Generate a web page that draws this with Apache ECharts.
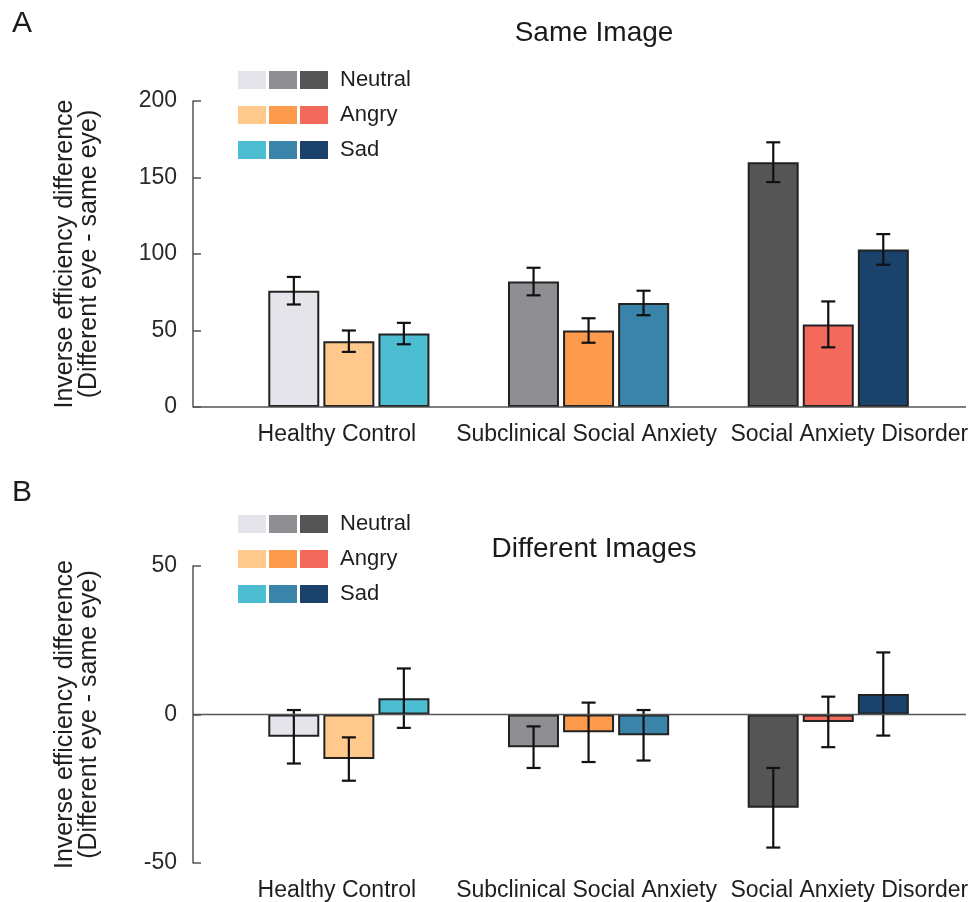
<!DOCTYPE html>
<html>
<head>
<meta charset="utf-8">
<title>Inverse efficiency difference</title>
<script src="https://cdn.jsdelivr.net/npm/echarts@6/dist/echarts.min.js"></script>
<style>
  html, body { margin: 0; padding: 0; background: #fff; }
  #main { width: 971px; height: 902px; }
</style>
</head>
<body>
<div id="main"></div>
<script>
// groups and emotions
var categories = ['Healthy Control', 'Subclinical Social Anxiety', 'Social Anxiety Disorder'];
var emotions = ['Neutral', 'Angry', 'Sad'];

// one shade per group (light -> dark)
var neutralShades = ['#e4e4ea', '#8e8e93', '#555555'];
var angryShades = ['#fec98a', '#fd9a4c', '#f3695b'];
var sadShades = ['#4dbdd1', '#3a83a9', '#1a426b'];

// A: same image (mean, error)
var sameNeutral = [76, 82, 160];
var sameNeutralErr = [9, 9, 13];
var sameAngry = [43, 50, 54];
var sameAngryErr = [7, 8, 15];
var sameSad = [48, 68, 103];
var sameSadErr = [7, 8, 10];

// B: different images (mean, error)
var diffNeutral = [-7.5, -11, -31.4];
var diffNeutralErr = [9, 7, 13.4];
var diffAngry = [-15, -6, -2.5];
var diffAngryErr = [7.3, 10, 8.5];
var diffSad = [5.5, -7, 6.9];
var diffSadErr = [10, 8.5, 14];

var yTicksA = { min: 0, max: 200, interval: 50 };
var yTicksB = { min: -50, max: 50, interval: 50 };

var FONT = 'Liberation Sans, Arial, sans-serif';
var shades = [neutralShades, angryShades, sadShades];
var panels = [
  { vals: [sameNeutral, sameAngry, sameSad], errs: [sameNeutralErr, sameAngryErr, sameSadErr] },
  { vals: [diffNeutral, diffAngry, diffSad], errs: [diffNeutralErr, diffAngryErr, diffSadErr] }
];

var BAR_W = 51, BAR_STEP = 55;
// labels in the figure sit a little off the group centres
var labelPads = [[0, 24, 0, 0], [0, 4, 0, 0], [0, 0, 0, 42]];

function errorRender(offset) {
  return function(params, api) {
    var idx = api.value(0);
    var x = api.coord([idx, 0])[0] + offset;
    var lo = api.coord([idx, api.value(1)])[1];
    var hi = api.coord([idx, api.value(2)])[1];
    var st = { stroke: '#111', lineWidth: 2.2 };
    return {
      type: 'group',
      children: [
        { type: 'line', shape: { x1: x, y1: lo, x2: x, y2: hi }, style: st },
        { type: 'line', shape: { x1: x - 7, y1: lo, x2: x + 7, y2: lo }, style: st },
        { type: 'line', shape: { x1: x - 7, y1: hi, x2: x + 7, y2: hi }, style: st }
      ]
    };
  };
}

var series = [];
panels.forEach(function(p, pi) {
  emotions.forEach(function(name, ei) {
    series.push({
      name: name,
      type: 'bar',
      xAxisIndex: pi,
      yAxisIndex: pi,
      barWidth: BAR_W,
      barGap: '8%',
      data: p.vals[ei].map(function(v, i) {
        return { value: v, itemStyle: { color: shades[ei][i] } };
      }),
      itemStyle: { borderColor: '#222', borderWidth: 2 },
      emphasis: { disabled: true },
      z: 2
    });
  });
  emotions.forEach(function(name, ei) {
    series.push({
      type: 'custom',
      xAxisIndex: pi,
      yAxisIndex: pi,
      renderItem: errorRender((ei - 1) * BAR_STEP),
      encode: { x: 0, y: [1, 2] },
      data: p.vals[ei].map(function(v, i) {
        return [i, v - p.errs[ei][i], v + p.errs[ei][i]];
      }),
      z: 5,
      silent: true
    });
  });
});

function xAxis(gi) {
  return {
    type: 'category',
    gridIndex: gi,
    data: categories.map(function(c, i) {
      return { value: c, textStyle: { padding: labelPads[i] } };
    }),
    axisLine: { show: false, onZero: false },
    axisTick: { show: false },
    axisLabel: { fontFamily: FONT, fontSize: 23, color: '#1e1e1e', margin: 16, interval: 0 }
  };
}

function yAxis(gi, t) {
  return {
    type: 'value',
    gridIndex: gi,
    min: t.min, max: t.max, interval: t.interval,
    offset: 36,
    name: 'Inverse efficiency difference\n(Different eye - same eye)',
    nameLocation: 'middle',
    nameGap: 92,
    nameTextStyle: { fontFamily: FONT, fontSize: 25, color: '#1e1e1e', lineHeight: 24 },
    axisLine: { show: true, lineStyle: { color: '#555', width: 1.5 } },
    axisTick: { show: true, inside: true, length: 8, lineStyle: { color: '#555', width: 1.5 } },
    axisLabel: { fontFamily: FONT, fontSize: 23, color: '#2a2a2a', margin: 16 },
    splitLine: { show: false }
  };
}

var chart = echarts.init(document.getElementById('main'));
chart.setOption({
  animation: false,
  backgroundColor: '#fff',
  grid: [
    { left: 229, right: 22, top: 101, bottom: 495 },
    { left: 229, right: 22, top: 566, bottom: 30 }
  ],
  xAxis: [xAxis(0), xAxis(1)],
  yAxis: [yAxis(0, yTicksA), yAxis(1, yTicksB)],
  series: series
});

// baselines at zero, legend swatches, titles
var graphics = [];
[0, 1].forEach(function(gi) {
  var y0 = chart.convertToPixel({ yAxisIndex: gi }, 0);
  graphics.push({
    type: 'line', z: 10,
    shape: { x1: 193, y1: y0, x2: 966, y2: y0 },
    style: { stroke: '#555', lineWidth: 1.5 }
  });
});

function legendBlock(top) {
  emotions.forEach(function(name, ei) {
    var cy = top + ei * 35;
    shades[ei].forEach(function(c, si) {
      graphics.push({
        type: 'rect',
        shape: { x: 238 + si * 31, y: cy - 9, width: 28, height: 18 },
        style: { fill: c }
      });
    });
    graphics.push({
      type: 'text', x: 340, y: cy,
      style: { text: name, fontFamily: FONT, fontSize: 22, fill: '#1e1e1e', textVerticalAlign: 'middle' }
    });
  });
}
legendBlock(80);
legendBlock(524);

function label(txt, x, y, size, align) {
  graphics.push({
    type: 'text', x: x, y: y,
    style: { text: txt, fontFamily: FONT, fontSize: size, fill: '#1a1a1a', textAlign: align, textVerticalAlign: 'middle' }
  });
}
label('Same Image', 594, 33, 28, 'center');
label('Different Images', 594, 549, 28, 'center');
label('A', 12, 24, 30, 'left');
label('B', 12, 493, 30, 'left');

chart.setOption({ graphic: graphics });
</script>
</body>
</html>
